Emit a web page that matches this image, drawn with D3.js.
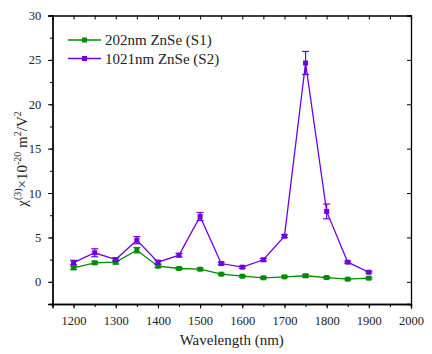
<!DOCTYPE html>
<html><head><meta charset="utf-8">
<script src="https://cdn.jsdelivr.net/npm/d3@7"></script>
<style>body{margin:0;background:#fff}svg{display:block}</style>
</head><body>
<script>
const wavelengths = [1200,1250,1300,1350,1400,1450,1500,1550,1600,1650,1700,1750,1800,1850,1900];
const s1Values = [1.58,2.14,2.21,3.56,1.76,1.5,1.42,0.86,0.63,0.45,0.56,0.68,0.48,0.3,0.41];
const s1Errors = [0.2,0.15,0.2,0.3,0.15,0.12,0.12,0.1,0.1,0.1,0.1,0.15,0.1,0.1,0.1];
const s2Values = [2.17,3.27,2.51,4.69,2.21,3.0,7.36,2.06,1.65,2.48,5.14,24.65,7.93,2.21,1.08];
const s2Errors = [0.25,0.45,0.2,0.4,0.2,0.2,0.45,0.15,0.12,0.15,0.15,1.3,0.83,0.12,0.1];
const seriesNames = ["202nm ZnSe (S1)","1021nm ZnSe (S2)"];
const xTicks = [1200,1300,1400,1500,1600,1700,1800,1900,2000];
const yTicks = [0,5,10,15,20,25,30];

const W=432,H=354;
const m={l:52.5,r:21,t:15.5,b:50};
const FONT="'Liberation Serif', serif";
const svg=d3.select("body").append("svg").attr("width",W).attr("height",H);
const x=d3.scaleLinear().domain([1150,2000]).range([m.l,W-m.r]);
const y=d3.scaleLinear().domain([-2.5,30]).range([H-m.b,m.t]);
const colors=["#008c00","#7000e0"];

const xMinor=d3.range(1150,2001,50);
const yMinor=d3.range(-2.5,30.01,2.5);
const gb=svg.append("g").attr("transform",`translate(0,${y.range()[0]})`);
gb.call(d3.axisBottom(x).tickValues(xMinor).tickSize(3).tickFormat(""));
gb.call(g=>g.append("g").call(d3.axisBottom(x).tickValues(xTicks).tickSize(4.5).tickFormat(d3.format("d"))));
const gl=svg.append("g").attr("transform",`translate(${m.l},0)`);
gl.call(d3.axisLeft(y).tickValues(yMinor).tickSize(2.5).tickFormat(""));
gl.call(g=>g.append("g").call(d3.axisLeft(y).tickValues(yTicks).tickSize(4.5).tickFormat(d3.format("d"))));
const gt=svg.append("g").attr("transform",`translate(0,${m.t})`);
gt.call(d3.axisTop(x).tickValues(xMinor).tickSize(-4).tickFormat(""));
const gr=svg.append("g").attr("transform",`translate(${W-m.r},0)`);
gr.call(d3.axisRight(y).tickValues(yMinor.filter(v=>v%5===0)).tickSize(-4).tickFormat(""));
svg.selectAll("g").attr("font-family",null);
svg.selectAll(".domain").attr("stroke","#000").attr("stroke-width",1.3);
svg.selectAll(".tick line").attr("stroke","#000").attr("stroke-width",1);
svg.selectAll(".tick text").style("font-family",FONT).style("font-size","12.5px").attr("fill","#222");
gb.selectAll(".tick text").attr("dy","1.05em");
gl.selectAll(".tick text").attr("dx","-0.3em");

const data=[s1Values.map((v,i)=>({x:wavelengths[i],y:v,e:s1Errors[i]})),
            s2Values.map((v,i)=>({x:wavelengths[i],y:v,e:s2Errors[i]}))];
const line=d3.line().x(d=>x(d.x)).y(d=>y(d.y));
data.forEach((ser,k)=>{
  const g=svg.append("g");
  g.append("path").datum(ser).attr("d",line).attr("fill","none").attr("stroke",colors[k]).attr("stroke-width",1.3);
  const eb=g.selectAll(".eb").data(ser).enter().append("g");
  eb.append("line").attr("x1",d=>x(d.x)).attr("x2",d=>x(d.x)).attr("y1",d=>y(d.y-d.e)).attr("y2",d=>y(d.y+d.e)).attr("stroke",colors[k]).attr("stroke-width",1.2);
  [-1,1].forEach(s=>eb.append("line").attr("x1",d=>x(d.x)-3.5).attr("x2",d=>x(d.x)+3.5).attr("y1",d=>y(d.y+s*d.e)).attr("y2",d=>y(d.y+s*d.e)).attr("stroke",colors[k]).attr("stroke-width",1.2));
  g.selectAll("rect").data(ser).enter().append("rect").attr("x",d=>x(d.x)-2.5).attr("y",d=>y(d.y)-2.5).attr("width",5).attr("height",5).attr("fill",colors[k]);
});

seriesNames.forEach((n,k)=>{
  const ly=40+k*18.5;
  svg.append("line").attr("x1",68).attr("x2",101).attr("y1",ly).attr("y2",ly).attr("stroke",colors[k]).attr("stroke-width",1.3);
  svg.append("rect").attr("x",82).attr("y",ly-2.5).attr("width",5).attr("height",5).attr("fill",colors[k]);
  svg.append("text").attr("x",105).attr("y",ly+5).style("font-family",FONT).style("font-size","15px").attr("fill","#222").text(n);
});

svg.append("text").attr("x",(x.range()[0]+x.range()[1])/2).attr("y",345).attr("text-anchor","middle")
  .style("font-family",FONT).style("font-size","15px").attr("fill","#222").text("Wavelength (nm)");
const yt=svg.append("text").attr("transform","translate(27,159) rotate(-90)").attr("text-anchor","middle")
  .style("font-family",FONT).style("font-size","15px").attr("fill","#222");
yt.append("tspan").text("χ");
yt.append("tspan").style("font-size","10px").attr("dy","-6").text("(3)");
yt.append("tspan").attr("dy","6").text("×10");
yt.append("tspan").style("font-size","10px").attr("dy","-6").text("-20");
yt.append("tspan").attr("dy","6").text(" m");
yt.append("tspan").style("font-size","10px").attr("dy","-6").text("2");
yt.append("tspan").attr("dy","6").text("/V");
yt.append("tspan").style("font-size","10px").attr("dy","-6").text("2");
</script>
</body></html>
